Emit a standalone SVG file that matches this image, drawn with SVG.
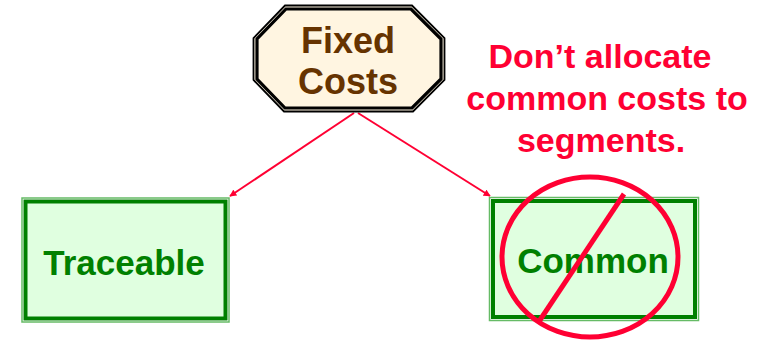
<svg xmlns="http://www.w3.org/2000/svg" width="768" height="345" viewBox="0 0 768 345">
<style>
.t{font-family:"Liberation Sans",Arial,sans-serif;font-weight:bold;text-anchor:middle}
.box{fill:#E0FFE0;stroke:#008000;stroke-width:4}
.boxo{fill:none;stroke:#66BB66;stroke-width:1.5}
.conn{stroke:#FF0033;stroke-width:2;fill:none}
</style>
<defs>
<marker id="ah" viewBox="0 0 10 10" refX="9" refY="5" markerWidth="7" markerHeight="7" orient="auto" markerUnits="userSpaceOnUse">
<path d="M0,0 L10,5 L0,10 z" fill="#FF0033"/>
</marker>
</defs>
<rect width="768" height="345" fill="#fff"/>
<g id="connectors">
<line class="conn" x1="354" y1="113" x2="230" y2="196" marker-end="url(#ah)"/>
<line class="conn" x1="358" y1="113" x2="490" y2="196" marker-end="url(#ah)"/>
</g>
<g id="fixed">
<polygon points="285,5.5 412,5.5 444.5,38 444.5,80 413,111.5 284,111.5 253.5,80 253.5,38" fill="#FFF5E1" stroke="#000" stroke-width="1.8"/>
<polygon points="286,9 411,9 441,39 441,79 412,108 285,108 257,79 257,39" fill="#FFF5E1" stroke="#000" stroke-width="3.2"/>
<text class="t" x="348" y="53" font-size="36" fill="#663300">Fixed</text>
<text class="t" x="348" y="94" font-size="36" fill="#663300">Costs</text>
</g>
<g id="traceable">
<rect class="boxo" x="22" y="198" width="207" height="124"/>
<rect class="box" x="25.5" y="201.5" width="200" height="117"/>
<text class="t" x="124" y="275" font-size="35" fill="#008000">Traceable</text>
</g>
<g id="common">
<rect class="boxo" x="489.5" y="197.5" width="209" height="123"/>
<rect class="box" x="493" y="201" width="202" height="116"/>
<text class="t" x="593" y="273" font-size="35" fill="#008000">Common</text>
</g>
<g id="prohibition">
<ellipse cx="590" cy="257" rx="88" ry="80" fill="none" stroke="#FF0033" stroke-width="5"/>
<line x1="624" y1="194" x2="538" y2="323" stroke="#FF0033" stroke-width="5"/>
</g>
<g id="note">
<text class="t" x="600" y="68" font-size="34" fill="#FF0033">Don’t allocate</text>
<text class="t" x="607" y="110" font-size="34" fill="#FF0033">common costs to</text>
<text class="t" x="601" y="152" font-size="34" fill="#FF0033">segments.</text>
</g>
</svg>
